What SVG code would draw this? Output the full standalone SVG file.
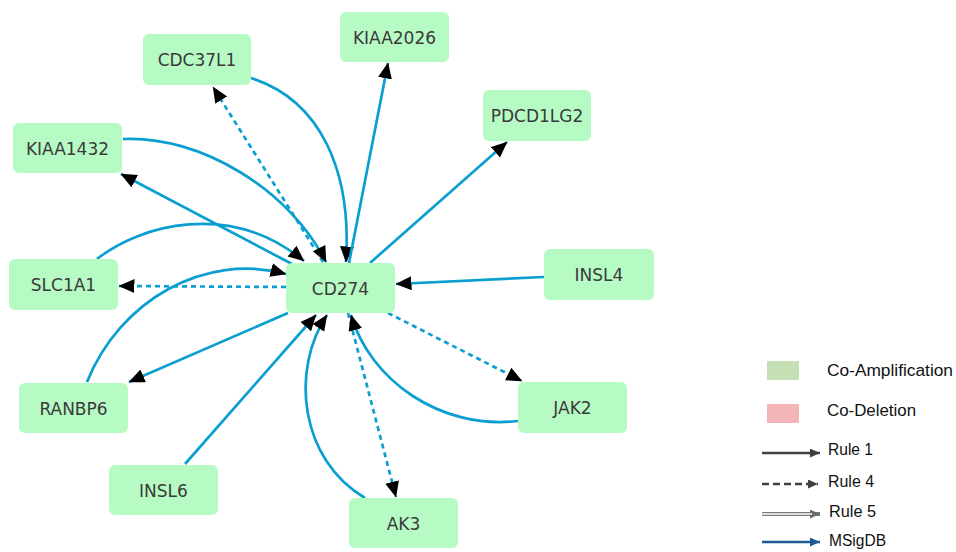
<svg xmlns="http://www.w3.org/2000/svg" width="956" height="552" viewBox="0 0 956 552">
<defs>
<style>
.node rect{fill:#b6fbc4;}
.node text{font-family:"DejaVu Sans",Verdana,sans-serif;font-size:17px;fill:#3a3a3a;text-anchor:middle;}
.e{fill:none;stroke:#0a9fd0;stroke-width:2.7;}
.d{stroke-dasharray:5,4;}
.lg{font-family:"Liberation Sans",Arial,sans-serif;font-size:16px;fill:#111;}
</style>
<marker id="ah" markerUnits="userSpaceOnUse" markerWidth="17" markerHeight="15" refX="15.5" refY="7" orient="auto">
<path d="M0,0 L16,7 L0,14 z" fill="#000"/>
</marker>
<marker id="lg1" markerUnits="userSpaceOnUse" markerWidth="11" markerHeight="10" refX="10" refY="4.5" orient="auto">
<path d="M0,0 L10,4.5 L0,9 z" fill="#404040"/>
</marker>
<marker id="lg5" markerUnits="userSpaceOnUse" markerWidth="11" markerHeight="10" refX="10" refY="4.5" orient="auto">
<path d="M0,0 L10,4.5 L0,9 z" fill="#6b6b6b"/>
</marker>
<marker id="lgm" markerUnits="userSpaceOnUse" markerWidth="11" markerHeight="10" refX="10" refY="4.5" orient="auto">
<path d="M0,0 L10,4.5 L0,9 z" fill="#1d5a96"/>
</marker>
</defs>
<rect width="956" height="552" fill="#fff"/>
<g id="edges">
<path class="e" d="M251,78 C320,100 352,170 346,262" marker-end="url(#ah)"/>
<path class="e" d="M349,263 L388,63" marker-end="url(#ah)"/>
<path class="e d" d="M323,262 L213,87" marker-end="url(#ah)"/>
<path class="e" d="M123,139 C200,135 290,190 326,262" marker-end="url(#ah)"/>
<path class="e" d="M292,264 L121,174" marker-end="url(#ah)"/>
<path class="e" d="M370,263 L507,142" marker-end="url(#ah)"/>
<path class="e" d="M544,277 L396,284" marker-end="url(#ah)"/>
<path class="e d" d="M286,287 L119,286" marker-end="url(#ah)"/>
<path class="e" d="M97,259 C140,225 230,200 304,261" marker-end="url(#ah)"/>
<path class="e" d="M87,382 C120,300 205,252 286,274" marker-end="url(#ah)"/>
<path class="e" d="M288,313 L129,382" marker-end="url(#ah)"/>
<path class="e" d="M185,464 L316,315" marker-end="url(#ah)"/>
<path class="e" d="M365,498 C300,460 290,370 327,315" marker-end="url(#ah)"/>
<path class="e d" d="M348,313 L396,497" marker-end="url(#ah)"/>
<path class="e" d="M518,421 C440,430 370,380 351,315" marker-end="url(#ah)"/>
<path class="e d" d="M388,313 L522,381" marker-end="url(#ah)"/>
</g>
<g id="CDC37L1" class="node"><rect x="143" y="34" width="108" height="51" rx="6"/><text x="197" y="66">CDC37L1</text></g>
<g id="KIAA2026" class="node"><rect x="340" y="12" width="109" height="50" rx="6"/><text x="394.5" y="43.5">KIAA2026</text></g>
<g id="KIAA1432" class="node"><rect x="13" y="123" width="109" height="50" rx="6"/><text x="67.5" y="154.5">KIAA1432</text></g>
<g id="PDCD1LG2" class="node"><rect x="483" y="90" width="108" height="51" rx="6"/><text x="537" y="122">PDCD1LG2</text></g>
<g id="SLC1A1" class="node"><rect x="9" y="259" width="109" height="51" rx="6"/><text x="63.5" y="291">SLC1A1</text></g>
<g id="CD274" class="node"><rect x="286" y="263" width="109" height="50" rx="6"/><text x="340.5" y="294.5">CD274</text></g>
<g id="INSL4" class="node"><rect x="544" y="249" width="110" height="51" rx="6"/><text x="599" y="281">INSL4</text></g>
<g id="RANBP6" class="node"><rect x="19" y="383" width="109" height="50" rx="6"/><text x="73.5" y="414.5">RANBP6</text></g>
<g id="JAK2" class="node"><rect x="518" y="382" width="109" height="51" rx="6"/><text x="572.5" y="414">JAK2</text></g>
<g id="INSL6" class="node"><rect x="109" y="465" width="109" height="50" rx="6"/><text x="163.5" y="496.5">INSL6</text></g>
<g id="AK3" class="node"><rect x="349" y="498" width="109" height="50" rx="6"/><text x="403.5" y="529.5">AK3</text></g>
<g id="legend">
<rect x="767" y="361" width="32" height="19" fill="#c5e0b4"/>
<text class="lg" x="827" y="376" textLength="126" lengthAdjust="spacingAndGlyphs">Co-Amplification</text>
<rect x="767" y="404" width="32" height="19" fill="#f4b5b8"/>
<text class="lg" x="827" y="416" textLength="89" lengthAdjust="spacingAndGlyphs">Co-Deletion</text>
<path d="M762,453 L820,453" stroke="#404040" stroke-width="2.5" fill="none" marker-end="url(#lg1)"/>
<text class="lg" x="828" y="455" textLength="45" lengthAdjust="spacingAndGlyphs">Rule 1</text>
<path d="M762,484 L818,484" stroke="#404040" stroke-width="2.5" stroke-dasharray="7,4" fill="none" marker-end="url(#lg1)"/>
<text class="lg" x="828" y="487" textLength="46" lengthAdjust="spacingAndGlyphs">Rule 4</text>
<path d="M762,514 L820,514" stroke="#7a7a7a" stroke-width="4" fill="none" marker-end="url(#lg5)"/>
<path d="M762,514 L812,514" stroke="#fff" stroke-width="1.3" fill="none"/>
<text class="lg" x="829" y="517" textLength="47" lengthAdjust="spacingAndGlyphs">Rule 5</text>
<path d="M762,542 L820,542" stroke="#1d5a96" stroke-width="2.5" fill="none" marker-end="url(#lgm)"/>
<text class="lg" x="829" y="546" textLength="57" lengthAdjust="spacingAndGlyphs">MSigDB</text>
</g>
</svg>
